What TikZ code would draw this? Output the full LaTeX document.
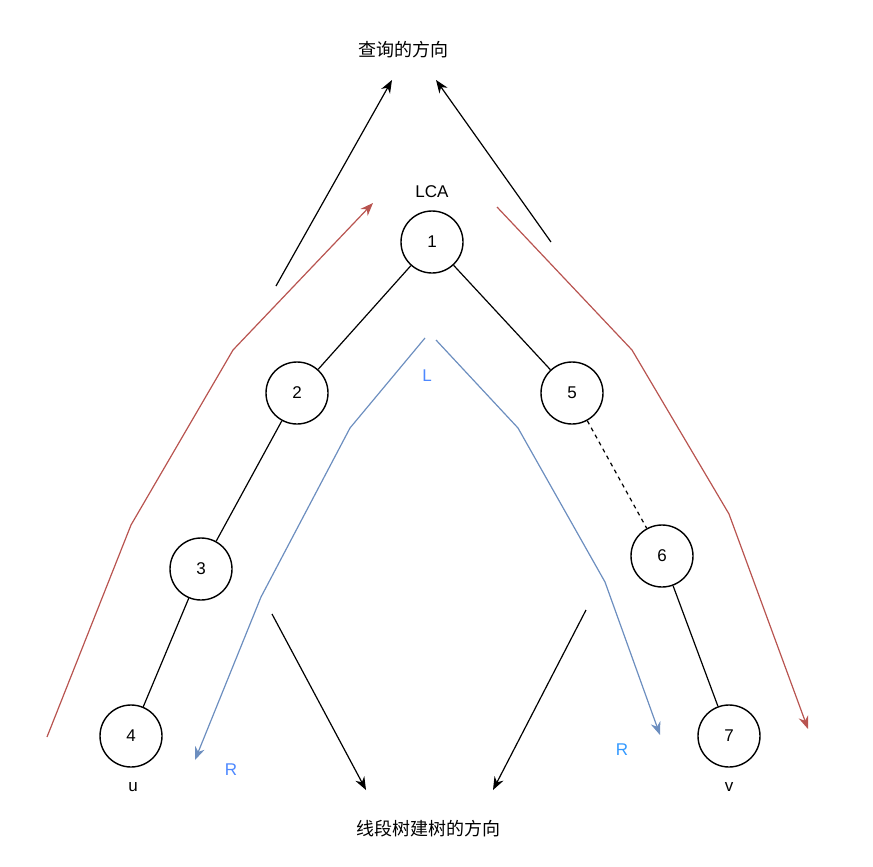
\documentclass[tikz,border=0pt]{standalone}
\usepackage{fontspec}
\setmainfont{Liberation Sans}
\newfontfamily\cjk{Noto Sans CJK SC}
\usetikzlibrary{arrows.meta}
\definecolor{redline}{HTML}{B85450}
\definecolor{blueline}{HTML}{6C8EBF}
\definecolor{bluetext}{HTML}{4D88FF}
\definecolor{bluetext2}{HTML}{3399FF}
\begin{document}
\begin{tikzpicture}[x=1pt,y=-1pt,
  vert/.style={circle,draw,line width=1.4pt,minimum size=62pt,inner sep=0pt,font=\fontsize{17}{20}\selectfont},
  lbl/.style={font=\fontsize{17}{20}\selectfont,inner sep=0pt},
  cjklbl/.style={font=\fontsize{18}{21}\selectfont\cjk,inner sep=0pt},
  edge/.style={line width=1.2pt},
  dir/.style={line width=1.2pt,-{Stealth[length=13pt,width=10pt]}},
  rpath/.style={redline,line width=1.2pt,-{Stealth[length=13pt,width=10pt]}},
  bpath/.style={blueline,line width=1.2pt,-{Stealth[length=13pt,width=10pt]}}]
\useasboundingbox (0,0) rectangle (873,867);
\node[vert] (n1) at (432,242) {1};
\node[vert] (n2) at (297,393) {2};
\node[vert] (n5) at (572,393) {5};
\node[vert] (n3) at (201,569) {3};
\node[vert] (n6) at (662,556) {6};
\node[vert] (n4) at (131,736) {4};
\node[vert] (n7) at (729,736) {7};
\draw[edge] (n1) -- (n2);
\draw[edge] (n1) -- (n5);
\draw[edge] (n2) -- (n3);
\draw[edge] (n3) -- (n4);
\draw[edge] (n6) -- (n7);
\draw[edge,dash pattern=on 4pt off 4pt] (n5) -- (n6);
\node[lbl] (lca) at (432,192) {LCA};
\node[lbl] (u) at (133,787) {u};
\node[lbl] (v) at (729,787) {v};
\node[cjklbl] (qd) at (403,50) {查询的方向};
\node[cjklbl] (bd) at (428,829) {线段树建树的方向};
\node[lbl,text=bluetext] (L) at (427,376) {L};
\node[lbl,text=bluetext] (R1) at (231,770) {R};
\node[lbl,text=bluetext2] (R2) at (622,750) {R};
\coordinate (a1s) at (276,286); \coordinate (a1e) at (392,80);
\coordinate (a2s) at (551,242); \coordinate (a2e) at (436,80);
\coordinate (a3s) at (272,614); \coordinate (a3e) at (366,790);
\coordinate (a4s) at (586,610); \coordinate (a4e) at (493,790);
\draw[dir] (a1s) -- (a1e);
\draw[dir] (a2s) -- (a2e);
\draw[dir] (a3s) -- (a3e);
\draw[dir] (a4s) -- (a4e);
\draw[rpath] (47,737) -- (131,525) -- (233,350) -- (373,203);
\draw[rpath] (497,207) -- (632,350) -- (729,514) -- (808,729);
\draw[bpath] (425,338) -- (350,428) -- (261,597) -- (195,760);
\draw[bpath] (436,340) -- (518,428) -- (605,582) -- (660,735);
\end{tikzpicture}
\end{document}
